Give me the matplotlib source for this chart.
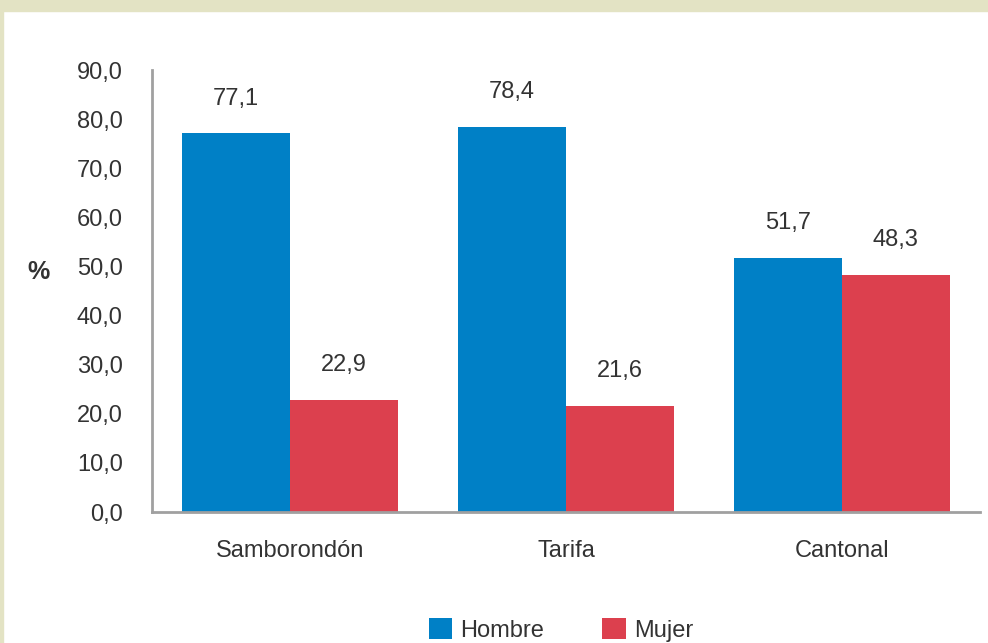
import matplotlib.pyplot as plt
import numpy as np

categories = ["Samborondón", "Tarifa", "Cantonal"]
hombre = [77.1, 78.4, 51.7]
mujer = [22.9, 21.6, 48.3]
y_ticks = [0, 10, 20, 30, 40, 50, 60, 70, 80, 90]

BLUE = "#0080C6"
RED = "#DC404E"
TEXT = "#333333"
BAND = "#E3E3C4"

plt.rcParams["font.family"] = ["Liberation Sans", "DejaVu Sans"]

fig = plt.figure(figsize=(9.88, 6.43), dpi=100)
fig.patch.set_facecolor("white")

# beige frame (top band + left strip)
fig.patches.append(plt.Rectangle((0, 1 - 11 / 643), 1, 11 / 643, transform=fig.transFigure,
                                 color=BAND, zorder=0))
fig.patches.append(plt.Rectangle((0, 0), 3 / 988, 1, transform=fig.transFigure,
                                 color=BAND, zorder=0))

W, H = 988, 643
ax = fig.add_axes([152 / W, 1 - 512 / H, 828 / W, (512 - 70) / H])

x = np.arange(len(categories))
w = 0.39
b1 = ax.bar(x - w / 2, hombre, w, color=BLUE, label="Hombre", zorder=2)
b2 = ax.bar(x + w / 2, mujer, w, color=RED, label="Mujer", zorder=2)

for bars, vals in [(b1, hombre), (b2, mujer)]:
    for r, v in zip(bars, vals):
        ax.annotate(f"{v:.1f}".replace(".", ","), (r.get_x() + r.get_width() / 2, v),
                    xytext=(0, 17), textcoords="offset points", ha="center", va="bottom",
                    fontsize=17, color=TEXT)

ax.set_xlim(-0.5, 2.5)
ax.set_ylim(0, 90)
ax.set_yticks(y_ticks)
ax.set_yticklabels([f"{t:.1f}".replace(".", ",") for t in y_ticks], fontsize=17, color=TEXT)
ax.set_xticks(x)
ax.set_xticklabels(categories, fontsize=17, color=TEXT)
ax.tick_params(axis="both", length=0)
ax.tick_params(axis="y", pad=21)
ax.tick_params(axis="x", pad=20)

for s in ["top", "right"]:
    ax.spines[s].set_visible(False)
for s in ["left", "bottom"]:
    ax.spines[s].set_color("#A0A0A0")
    ax.spines[s].set_linewidth(2)

fig.text(38 / W, 1 - 272 / H, "%", fontsize=18, fontweight="bold", color=TEXT,
         ha="center", va="center")

leg = fig.legend(handles=[b1, b2], loc="center", bbox_to_anchor=(561 / W, 1 - 630 / H),
                 ncol=2, frameon=False, fontsize=17, handlelength=1.0, handleheight=1.0,
                 columnspacing=2.45, handletextpad=0.35, labelcolor=TEXT)

fig.savefig("out.png", dpi=100)
